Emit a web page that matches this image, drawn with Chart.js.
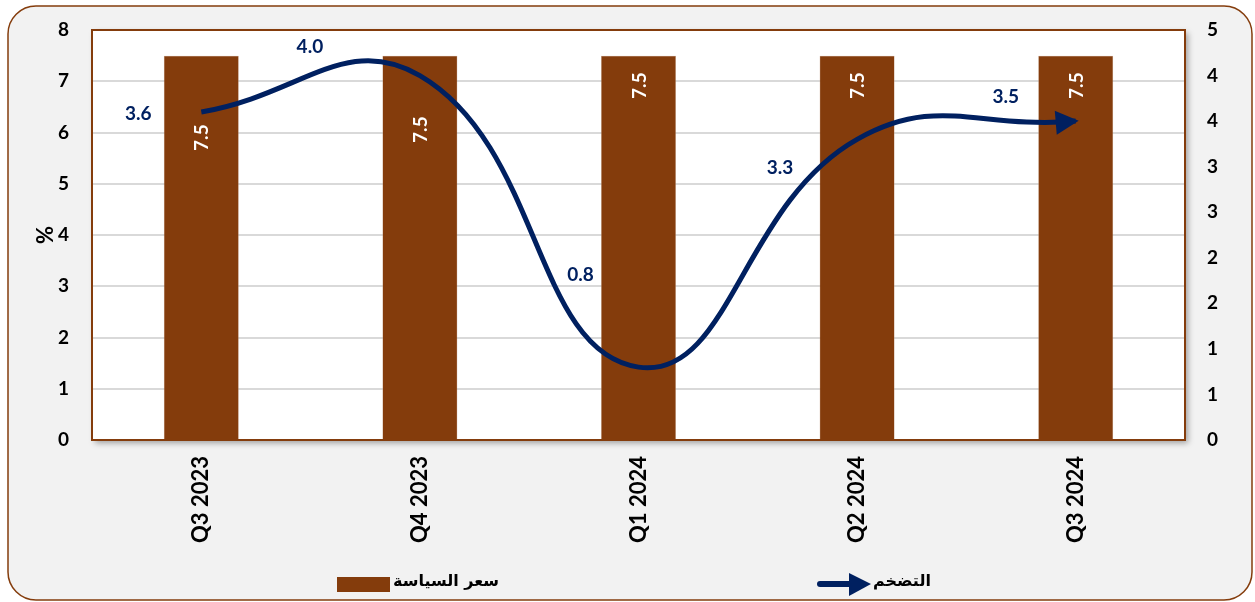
<!DOCTYPE html>
<html>
<head>
<meta charset="utf-8">
<script src="https://cdn.jsdelivr.net/npm/chart.js@4"></script>
<style>
  body { margin: 0; background: #ffffff; }
  #box { position: relative; width: 1255px; height: 602px; }
</style>
</head>
<body>
<div id="box"><canvas id="grafico"></canvas></div>
<script>
// dados
const trimestres = ['Q3 2023', 'Q4 2023', 'Q1 2024', 'Q2 2024', 'Q3 2024'];
const taxaPolitica = [7.5, 7.5, 7.5, 7.5, 7.5];
const inflacao = [3.6, 4.0, 0.8, 3.3, 3.5];
const nomeTaxa = 'سعر السياسة';
const nomeInflacao = 'التضخم';

const marrom = '#843c0c';
const azul = '#002060';
const fonte = 'Lato, "Open Sans", sans-serif';

// deslocamento dos rótulos (px) em relação ao ponto/topo da barra
const offLinha = [[-63, 2], [-110, -29], [-58, -92], [-77, 29], [-70, -24]];
const offBarra = [82, 74, 30, 30, 30];

function retRedondo(ctx, x, y, w, h, r) {
    ctx.beginPath();
    ctx.moveTo(x + r, y);
    ctx.lineTo(x + w - r, y);
    ctx.arcTo(x + w, y, x + w, y + r, r);
    ctx.lineTo(x + w, y + h - r);
    ctx.arcTo(x + w, y + h, x + w - r, y + h, r);
    ctx.lineTo(x + r, y + h);
    ctx.arcTo(x, y + h, x, y + h - r, r);
    ctx.lineTo(x, y + r);
    ctx.arcTo(x, y, x + r, y, r);
    ctx.closePath();
}

const fundo = {
    id: 'fundo',
    beforeDraw(chart) {
        const ctx = chart.ctx;
        const a = chart.chartArea;
        ctx.save();
        retRedondo(ctx, 8, 6, 1244, 594, 28);
        ctx.fillStyle = '#f2f2f2';
        ctx.fill();
        ctx.lineWidth = 1.5;
        ctx.strokeStyle = marrom;
        ctx.stroke();
        ctx.shadowColor = 'rgba(0,0,0,0.35)';
        ctx.shadowBlur = 6;
        ctx.shadowOffsetX = 3;
        ctx.shadowOffsetY = 3;
        ctx.fillStyle = '#ffffff';
        ctx.fillRect(a.left, a.top, a.right - a.left, a.bottom - a.top);
        ctx.restore();
    },
    beforeDatasetsDraw(chart) {
        const ctx = chart.ctx;
        const a = chart.chartArea;
        ctx.save();
        ctx.lineWidth = 2;
        ctx.strokeStyle = marrom;
        ctx.strokeRect(a.left, a.top, a.right - a.left, a.bottom - a.top);
        ctx.restore();
    }
};

const rotulos = {
    id: 'rotulos',
    afterDatasetsDraw(chart) {
        const ctx = chart.ctx;
        const barras = chart.getDatasetMeta(1).data;
        const pontos = chart.getDatasetMeta(0).data;
        ctx.save();
        ctx.font = 'bold 19px ' + fonte;
        ctx.textAlign = 'center';
        ctx.textBaseline = 'middle';

        // seta no fim da linha
        const ult = pontos[pontos.length - 1];
        let dx = ult.x - ult.cp1x, dy = ult.y - ult.cp1y;
        const len = Math.hypot(dx, dy) || 1;
        dx /= len; dy /= len;
        const tx = ult.x + dx * 3, ty = ult.y + dy * 3;
        const bx = tx - dx * 23, by = ty - dy * 23;
        ctx.fillStyle = azul;
        ctx.beginPath();
        ctx.moveTo(tx, ty);
        ctx.lineTo(bx - dy * 12, by + dx * 12);
        ctx.lineTo(bx + dy * 12, by - dx * 12);
        ctx.closePath();
        ctx.fill();

        // valores da barra
        barras.forEach((b, i) => {
            ctx.save();
            ctx.translate(b.x, b.y + offBarra[i]);
            ctx.rotate(-Math.PI / 2);
            ctx.fillStyle = '#ffffff';
            ctx.fillText(taxaPolitica[i].toFixed(1), 0, 1);
            ctx.restore();
        });

        // valores da linha
        ctx.fillStyle = azul;
        pontos.forEach((p, i) => {
            ctx.fillText(inflacao[i].toFixed(1), p.x + offLinha[i][0], p.y + offLinha[i][1]);
        });
        ctx.restore();
    },
    afterDraw(chart) {
        // legenda
        const ctx = chart.ctx;
        ctx.save();
        ctx.fillStyle = marrom;
        ctx.fillRect(337, 577, 53, 15);
        ctx.strokeStyle = azul;
        ctx.lineWidth = 6;
        ctx.lineCap = 'round';
        ctx.beginPath();
        ctx.moveTo(820, 584);
        ctx.lineTo(850, 584);
        ctx.stroke();
        ctx.fillStyle = azul;
        ctx.beginPath();
        ctx.moveTo(871, 584);
        ctx.lineTo(849, 573);
        ctx.lineTo(849, 596);
        ctx.closePath();
        ctx.fill();
        ctx.fillStyle = '#000000';
        ctx.font = 'bold 16px "DejaVu Sans", sans-serif';
        ctx.textBaseline = 'middle';
        ctx.textAlign = 'left';
        ctx.fillText(nomeTaxa, 393, 582);
        ctx.fillText(nomeInflacao, 873, 582);
        ctx.restore();
    }
};

new Chart(document.getElementById('grafico'), {
    data: {
        labels: trimestres,
        datasets: [{
            type: 'line',
            label: nomeInflacao,
            data: inflacao,
            yAxisID: 'y2',
            borderColor: azul,
            borderWidth: 5,
            pointRadius: 0,
            tension: 0.45,
            order: 0
        }, {
            type: 'bar',
            label: nomeTaxa,
            data: taxaPolitica,
            yAxisID: 'y',
            backgroundColor: marrom,
            borderColor: '#c8a48c',
            borderWidth: 0.5,
            barPercentage: 0.343,
            categoryPercentage: 1,
            order: 1
        }]
    },
    options: {
        responsive: true,
        maintainAspectRatio: false,
        animation: false,
        layout: { padding: { top: 30, left: 0, right: 0, bottom: 0 } },
        plugins: {
            legend: { display: false },
            tooltip: { enabled: false }
        },
        scales: {
            x: {
                grid: { display: false, drawTicks: false },
                border: { display: false },
                ticks: {
                    minRotation: 90,
                    maxRotation: 90,
                    padding: 16,
                    color: '#000000',
                    font: { family: fonte, size: 22, weight: 'bold' }
                },
                afterFit(s) { s.height = 162; }
            },
            y: {
                position: 'left',
                min: 0,
                max: 8,
                ticks: {
                    stepSize: 1,
                    padding: 1,
                    color: '#000000',
                    font: { family: fonte, size: 19, weight: 'bold' }
                },
                grid: {
                    drawTicks: true,
                    tickLength: 22,
                    tickColor: 'rgba(0,0,0,0)',
                    lineWidth: 2,
                    color: (c) => (c.tick && (c.tick.value === 0 || c.tick.value === 8)) ? 'rgba(0,0,0,0)' : '#d9d9d9'
                },
                border: { display: false },
                title: {
                    display: true,
                    text: '%',
                    color: '#000000',
                    padding: { top: 33, bottom: 0 },
                    font: { family: fonte, size: 22, weight: 'bold' }
                },
                afterFit(s) { s.width = 92; }
            },
            y2: {
                position: 'right',
                min: 0,
                max: 4.5,
                ticks: {
                    stepSize: 0.5,
                    padding: 1,
                    color: '#000000',
                    font: { family: fonte, size: 19, weight: 'bold' },
                    callback: (v) => Math.round(v)
                },
                grid: {
                    drawOnChartArea: false,
                    drawTicks: true,
                    tickLength: 21,
                    tickColor: 'rgba(0,0,0,0)',
                    color: 'rgba(0,0,0,0)'
                },
                border: { display: false },
                afterFit(s) { s.width = 70; }
            }
        }
    },
    plugins: [fundo, rotulos]
});
</script>
</body>
</html>
